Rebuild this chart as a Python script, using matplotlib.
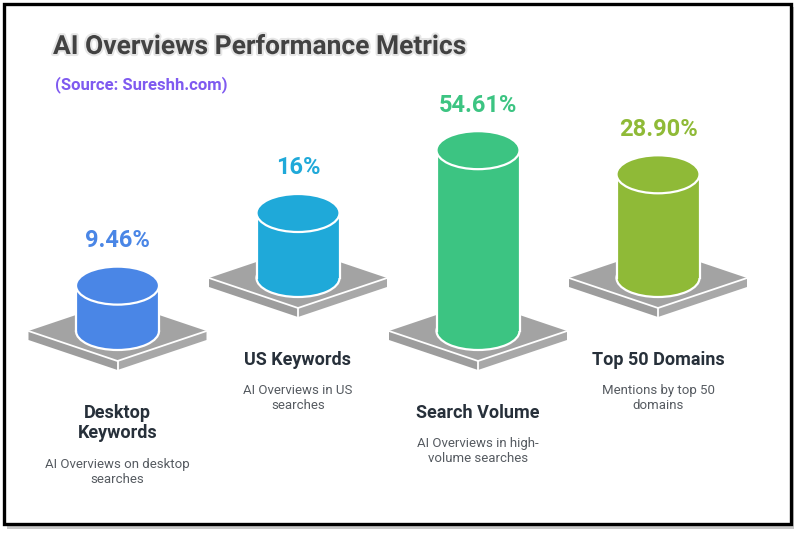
import matplotlib.pyplot as plt
from matplotlib.patches import Polygon, Ellipse, Rectangle
import matplotlib.patheffects as pe

plt.rcParams['font.family'] = ['Roboto', 'DejaVu Sans']

# data
names = ['Desktop\nKeywords', 'US Keywords', 'Search Volume', 'Top 50 Domains']
notes = ['AI Overviews on desktop\nsearches', 'AI Overviews in US\nsearches',
         'AI Overviews in high-\nvolume searches', 'Mentions by top 50\ndomains']
values = [9.46, 16, 54.61, 28.90]
labels = ['9.46%', '16%', '54.61%', '28.90%']
colors = ['#4a86e6', '#1fa9d9', '#3cc482', '#8fba37']

# layout (pixels)
xs = [117.5, 298, 478, 658]
base_y = [331, 278, 331, 278]
name_y = [423, 360, 413, 360]
W, D, T = 89, 30, 9          # platform half width, half depth, thickness
R, RY = 41.5, 19             # cylinder radius / ellipse semi-minor
grey = '#a3a3a3'


def cyl_height(v):
    return 17 + 3.0 * v


fig = plt.figure(figsize=(8, 5.35), dpi=100)
ax = fig.add_axes([0, 0, 1, 1])
ax.set_xlim(0, 800)
ax.set_ylim(535, 0)
ax.axis('off')

# frame with shadow
ax.add_patch(Rectangle((7, 7), 787, 522, fc='#c8c8c8', ec='none', zorder=0))
ax.add_patch(Rectangle((4, 4), 787, 520, fc='white', ec='black', lw=2.4, zorder=0.5))

ax.text(53, 47, 'AI Overviews Performance Metrics', fontsize=19, fontweight='bold',
        color='#424242', va='center', ha='left',
        path_effects=[pe.withStroke(linewidth=3, foreground='#e6e6e6')])
ax.text(55, 85, '(Source: Sureshh.com)', fontsize=12, fontweight='bold',
        color='#7f5af0', va='center', ha='left')

for i in range(4):
    cx, cy = xs[i], base_y[i]
    # platform
    top = [(cx - W, cy), (cx, cy + D), (cx + W, cy), (cx, cy - D)]
    left = [(cx - W, cy), (cx, cy + D), (cx, cy + D + T), (cx - W, cy + T)]
    right = [(cx, cy + D), (cx + W, cy), (cx + W, cy + T), (cx, cy + D + T)]
    ax.add_patch(Polygon(left, fc='#9d9d9d', ec='none', zorder=2))
    ax.add_patch(Polygon(right, fc='#a8a8a8', ec='none', zorder=2))
    ax.add_patch(Polygon(top, fc=grey, ec='none', zorder=2))
    ax.plot([cx - W, cx, cx + W], [cy, cy + D, cy], color='white', lw=1.3, zorder=2.5)
    ax.plot([cx, cx], [cy + D, cy + D + T], color='white', lw=1.3, zorder=2.5)

    # cylinder
    h = cyl_height(values[i])
    ty = cy - h
    ax.add_patch(Ellipse((cx, cy), 2 * R, 2 * RY, fc=colors[i], ec='white', lw=1.6, zorder=3))
    ax.add_patch(Rectangle((cx - R, ty), 2 * R, h, fc=colors[i], ec='none', zorder=3.1))
    ax.plot([cx - R, cx - R], [ty, cy], color='white', lw=1.6, zorder=3.2)
    ax.plot([cx + R, cx + R], [ty, cy], color='white', lw=1.6, zorder=3.2)
    ax.add_patch(Ellipse((cx, ty), 2 * R, 2 * RY, fc=colors[i], ec='white', lw=1.6, zorder=3.3))

    ax.text(cx, ty - RY - 26, labels[i], fontsize=17, fontweight='bold', color=colors[i],
            ha='center', va='center', zorder=4)

    ax.text(cx, name_y[i], names[i], fontsize=13, fontweight='bold', color='#27303a',
            ha='center', va='center', linespacing=1.15)
    nlines = names[i].count('\n')
    ax.text(cx, name_y[i] + 38 + nlines * 11, notes[i], fontsize=9.5, color='#565b61',
            ha='center', va='center', linespacing=1.25)

fig.savefig('out.png', dpi=100)
